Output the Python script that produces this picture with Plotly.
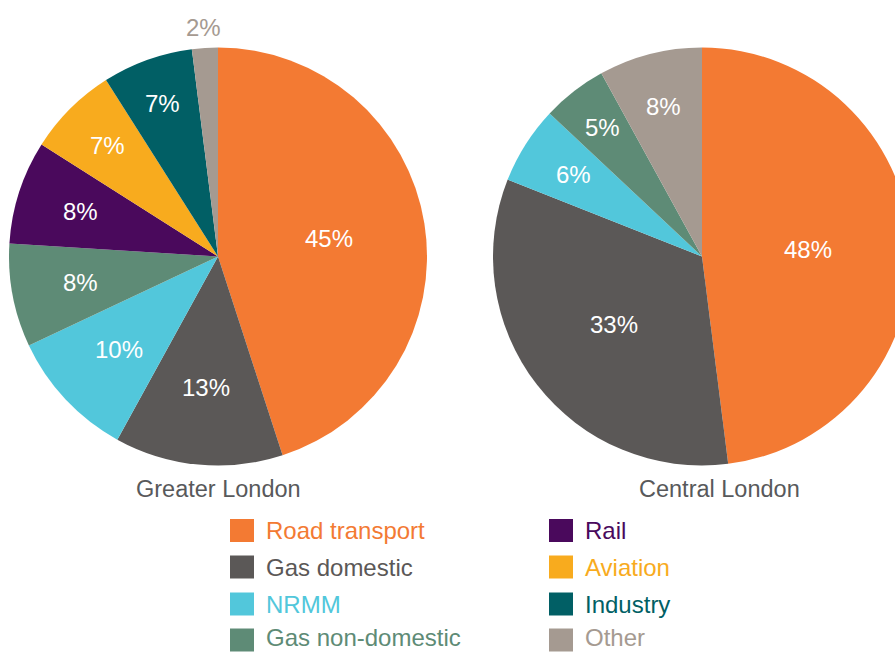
import math

import plotly.graph_objects as go

# ---- data -------------------------------------------------------------
categories = [
    "Road transport", "Gas domestic", "NRMM", "Gas non-domestic",
    "Rail", "Aviation", "Industry", "Other",
]
colours = {
    "Road transport": "#F37A33",
    "Gas domestic": "#5B5857",
    "NRMM": "#52C7DB",
    "Gas non-domestic": "#5E8B76",
    "Rail": "#4A095C",
    "Aviation": "#F8AB1E",
    "Industry": "#015F65",
    "Other": "#A59A91",
}

greater_labels = categories
greater_values = [45, 13, 10, 8, 8, 7, 7, 2]

central_labels = ["Road transport", "Gas domestic", "NRMM", "Gas non-domestic", "Other"]
central_values = [48, 33, 6, 5, 8]

pie_titles = ["Greater London", "Central London"]

# legend in two columns of four
legend_columns = [categories[:4], categories[4:]]

# ---- geometry (pixels) --------------------------------------------------
W, H = 920, 652
FONT = "Liberation Sans, Arial, Helvetica, sans-serif"
R = 209

# where each percentage label sits along its slice bisector (fraction of radius)
greater_label_r = [0.54, 0.63, 0.65, 0.67, 0.69, 0.75, 0.78, 1.10]
central_label_r = [0.51, 0.53, 0.73, 0.78, 0.74]


def px_x(x):
    return x / W


def px_y(y):
    return 1 - y / H


def pie_domain(cx, cy, r):
    return dict(x=[px_x(cx - r), px_x(cx + r)], y=[px_y(cy + r), px_y(cy - r)])


def add_pie(fig, labels, values, cx, cy, label_r):
    fig.add_trace(
        go.Pie(
            labels=labels,
            values=values,
            sort=False,
            direction="clockwise",
            rotation=0,
            marker=dict(colors=[colours[c] for c in labels], line=dict(width=0)),
            textinfo="none",
            domain=pie_domain(cx, cy, R),
            showlegend=False,
            hoverinfo="label+percent",
        )
    )
    # percentage labels on the slice bisectors
    total = sum(values)
    cum = 0
    for i, (lab, v) in enumerate(zip(labels, values)):
        mid = (cum + v / 2) / total * 2 * math.pi
        cum += v
        d = label_r[i] * R
        outside = label_r[i] > 1
        fig.add_annotation(
            text=f"{v}%",
            x=px_x(cx + d * math.sin(mid)),
            y=px_y(cy - d * math.cos(mid)),
            xref="paper", yref="paper",
            xanchor="center", yanchor="middle", showarrow=False,
            font=dict(size=24, family=FONT,
                      color=colours[lab] if outside else "white"),
        )


fig = go.Figure()
add_pie(fig, greater_labels, greater_values, 218, 256.5, greater_label_r)
add_pie(fig, central_labels, central_values, 702, 256.5, central_label_r)

# pie captions
for title, cx in zip(pie_titles, [218, 719]):
    fig.add_annotation(
        text=title, x=px_x(cx), y=px_y(489), xref="paper", yref="paper",
        xanchor="center", yanchor="middle", showarrow=False,
        font=dict(size=23.5, color="#58595B", family=FONT),
    )

# hand-built legend: coloured square + coloured label
col_x = [230, 549]
row_y = [530.5, 567, 604, 640]
for cx, names in zip(col_x, legend_columns):
    for ry, name in zip(row_y, names):
        fig.add_shape(
            type="rect", xref="paper", yref="paper",
            x0=px_x(cx), x1=px_x(cx + 24), y0=px_y(ry + 11.5), y1=px_y(ry - 11.5),
            fillcolor=colours[name], line=dict(width=0),
        )
        # keep the label box inside the bottom edge
        fig.add_annotation(
            text=name, x=px_x(cx + 34), y=px_y(min(ry, H - 15)),
            xref="paper", yref="paper",
            xanchor="left", yanchor="middle", showarrow=False,
            font=dict(size=24, color=colours[name], family=FONT),
        )

fig.update_layout(
    width=W,
    height=H,
    margin=dict(l=0, r=0, t=0, b=0),
    paper_bgcolor="white",
    plot_bgcolor="white",
    font=dict(family=FONT),
)

fig.write_html(
    "out.html",
    config={"displayModeBar": False},
    post_script="document.body.style.margin='0';document.body.style.overflow='hidden';",
)
